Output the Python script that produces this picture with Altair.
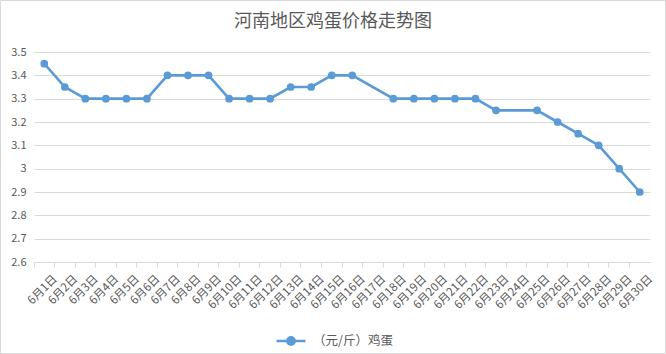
import altair as alt
import pandas as pd

dates = ["6月1日", "6月2日", "6月3日", "6月4日", "6月5日", "6月6日", "6月7日", "6月8日",
         "6月9日", "6月10日", "6月11日", "6月12日", "6月13日", "6月14日", "6月15日",
         "6月16日", "6月17日", "6月18日", "6月19日", "6月20日", "6月21日", "6月22日",
         "6月23日", "6月24日", "6月25日", "6月26日", "6月27日", "6月28日", "6月29日", "6月30日"]
prices = [3.45, 3.35, 3.3, 3.3, 3.3, 3.3, 3.4, 3.4, 3.4, 3.3, 3.3, 3.3, 3.35, 3.35, 3.4,
          3.4, None, 3.3, 3.3, 3.3, 3.3, 3.3, 3.25, None, 3.25, 3.2, 3.15, 3.1, 3.0, 2.9]
series_name = "（元/斤）鸡蛋"
title_text = "河南地区鸡蛋价格走势图"
y_ticks = [2.6, 2.7, 2.8, 2.9, 3.0, 3.1, 3.2, 3.3, 3.4, 3.5]

df = pd.DataFrame({"date": dates, "price": prices, "series": series_name})

W, H = 616, 210
STEP = W / len(dates)
FONT = "Noto Sans CJK SC"
GRAY = "#595959"
LIGHT = "#d9d9d9"
BLUE = "#5b9bd5"

# legend symbol: short line with a dot in the middle
LEG_SYMBOL = ("M-1,0L1,0"
              "M-0.25,0A0.25,0.25 0 1,0 0.25,0A0.25,0.25 0 1,0 -0.25,0Z")

line = alt.Chart(df).transform_filter("isValid(datum.price)").mark_line(
    strokeWidth=2.6,
    point=alt.OverlayMarkDef(size=60, filled=True, opacity=1),
).encode(
    x=alt.X("date:N", sort=dates, title=None,
            scale=alt.Scale(type="band", domain=dates, paddingInner=0, paddingOuter=0),
            axis=alt.Axis(bandPosition=0, labelOffset=STEP / 2 + 1, labelAngle=-45,
                          labelAlign="right", labelBaseline="middle",
                          labelColor=GRAY, labelFontSize=11.5, labelFont=FONT,
                          labelPadding=10, tickColor=LIGHT, tickSize=5,
                          domainColor=LIGHT, grid=False, labelOverlap=False)),
    y=alt.Y("price:Q", title=None,
            scale=alt.Scale(domain=[2.6, 3.5], nice=False, zero=False),
            axis=alt.Axis(values=y_ticks, format=".1~f", domain=False, ticks=False,
                          gridColor=LIGHT, labelColor=GRAY, labelFontSize=11,
                          labelFont=FONT, labelPadding=8)),
    color=alt.Color("series:N", scale=alt.Scale(range=[BLUE]),
                    legend=alt.Legend(title=None, orient="none", legendX=241, legendY=273,
                                      labelColor=GRAY, labelFontSize=12.5, labelFont=FONT,
                                      symbolType=LEG_SYMBOL, symbolSize=840,
                                      symbolStrokeWidth=2.6, symbolFillColor=BLUE,
                                      labelOffset=6)),
)

border = alt.Chart(alt.Data(values=[{}])).mark_rect(
    fill="transparent", stroke=LIGHT, strokeWidth=1, clip=False
).encode(
    x=alt.value(-33.5), x2=alt.value(631.5), y=alt.value(-51.5), y2=alt.value(301.5)
)

title = alt.Chart(alt.Data(values=[{"t": title_text}])).mark_text(
    font=FONT, fontSize=18, color=GRAY, align="center", baseline="middle", clip=False
).encode(text="t:N", x=alt.value(299), y=alt.value(-30))

chart = alt.layer(border, line, title).properties(
    width=W, height=H,
    autosize=alt.AutoSizeParams(type="none"),
    padding={"left": 34, "top": 52, "right": 16, "bottom": 92},
    background="white",
).configure_view(stroke=None)

chart.save("out.html", embed_options={"renderer": "svg", "actions": False})
